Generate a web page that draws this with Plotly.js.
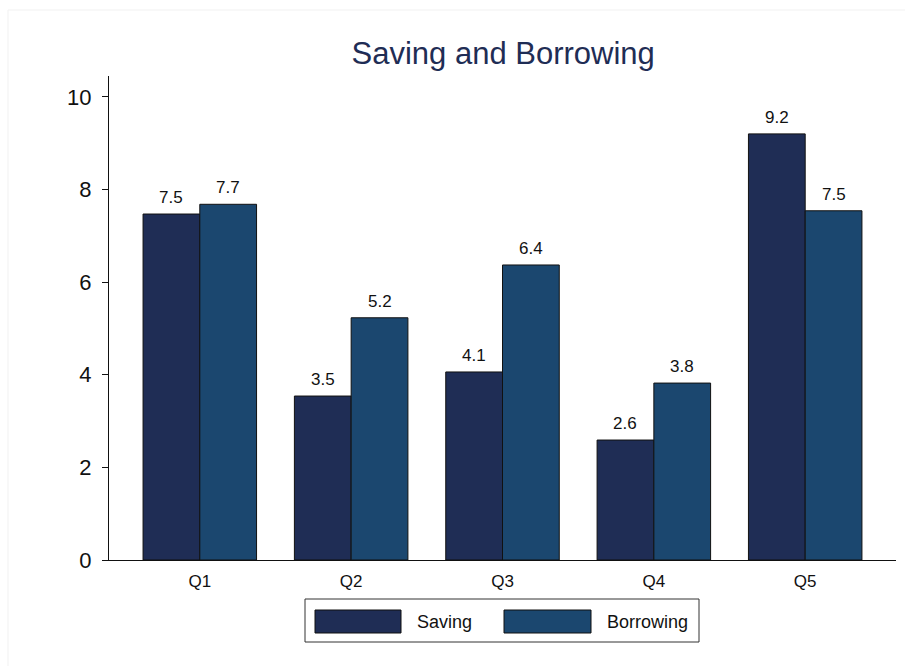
<!DOCTYPE html>
<html>
<head>
<meta charset="utf-8">
<script src="https://cdn.plot.ly/plotly-3.0.1.min.js"></script>
<style>html,body{margin:0;padding:0;background:#fff;}#chart{width:905px;height:666px;}</style>
</head>
<body>
<div id="chart"></div>
<script>
const categories = ["Q1", "Q2", "Q3", "Q4", "Q5"];
const saving = [7.47, 3.54, 4.06, 2.59, 9.2];
const borrowing = [7.68, 5.23, 6.37, 3.82, 7.54];
const seriesNames = ["Saving", "Borrowing"];
const yTicks = [0, 2, 4, 6, 8, 10];

const colSaving = "#1f2d55";
const colBorrow = "#1b476f";
const FONT = "Liberation Sans, Arial, sans-serif";

// plot area in pixels
const L = 109, R = 896, T = 76, B = 560;
const px = x => (x - L) / (R - L);
const py = y => (B - y) / (B - T);

const traces = [
  {type: "bar", name: seriesNames[0], x: categories, y: saving,
   marker: {color: colSaving, line: {color: "#111", width: 1}}, hoverinfo: "y"},
  {type: "bar", name: seriesNames[1], x: categories, y: borrowing,
   marker: {color: colBorrow, line: {color: "#111", width: 1}}, hoverinfo: "y"}
];

const shapes = [
  // faint outer graph border
  {type: "rect", xref: "paper", yref: "paper", x0: px(8), x1: px(960), y0: py(700), y1: py(10),
   line: {color: "#f1f1f1", width: 1}, fillcolor: "rgba(0,0,0,0)", layer: "below"},
  // legend box
  {type: "rect", xref: "paper", yref: "paper", x0: px(305), x1: px(699), y0: py(642), y1: py(599),
   line: {color: "#333", width: 1}, fillcolor: "#fff"},
  {type: "rect", xref: "paper", yref: "paper", x0: px(315), x1: px(401), y0: py(633), y1: py(610),
   line: {color: "#111", width: 1}, fillcolor: colSaving},
  {type: "rect", xref: "paper", yref: "paper", x0: px(504), x1: px(591), y0: py(633), y1: py(610),
   line: {color: "#111", width: 1}, fillcolor: colBorrow}
];

const annotations = [
  {xref: "paper", yref: "paper", x: px(415), y: py(622), xanchor: "left", yanchor: "middle",
   text: seriesNames[0], showarrow: false, font: {family: FONT, size: 18, color: "#111"}},
  {xref: "paper", yref: "paper", x: px(605), y: py(622), xanchor: "left", yanchor: "middle",
   text: seriesNames[1], showarrow: false, font: {family: FONT, size: 18, color: "#111"}}
];

// value labels above bars, from the data arrays
const halfBar = 28.4;
[saving, borrowing].forEach((arr, k) => {
  arr.forEach((v, i) => {
    annotations.push({x: categories[i], y: v, xref: "x", yref: "y",
      xshift: k === 0 ? -halfBar : halfBar, yshift: 5, yanchor: "bottom", xanchor: "center",
      text: v.toFixed(1), showarrow: false, font: {family: FONT, size: 17, color: "#111"}});
  });
});

const layout = {
  width: 905, height: 666,
  margin: {l: L, r: 905 - R, t: T, b: 666 - B, pad: 0},
  paper_bgcolor: "#fff", plot_bgcolor: "#fff",
  title: {text: "Saving and Borrowing", x: 0.556, xanchor: "center", y: 0.92, yanchor: "middle",
          font: {family: FONT, size: 31, color: "#1f2d55"}},
  barmode: "group", bargap: 0.25, bargroupgap: 0,
  showlegend: false,
  xaxis: {type: "category", range: [-0.6, 4.6], showline: true, linecolor: "#111", linewidth: 1,
          ticks: "", showgrid: false, zeroline: false, ticklabelstandoff: 6,
          tickfont: {family: FONT, size: 17, color: "#111"}},
  yaxis: {range: [0, 10.45], tickvals: yTicks, showline: true, linecolor: "#111", linewidth: 1,
          ticks: "outside", ticklen: 6, tickcolor: "#111", showgrid: false, zeroline: false,
          tickfont: {family: FONT, size: 22, color: "#111"}, ticklabelstandoff: 6},
  shapes: shapes, annotations: annotations
};

Plotly.newPlot("chart", traces, layout, {displayModeBar: false, staticPlot: true});
</script>
</body>
</html>
